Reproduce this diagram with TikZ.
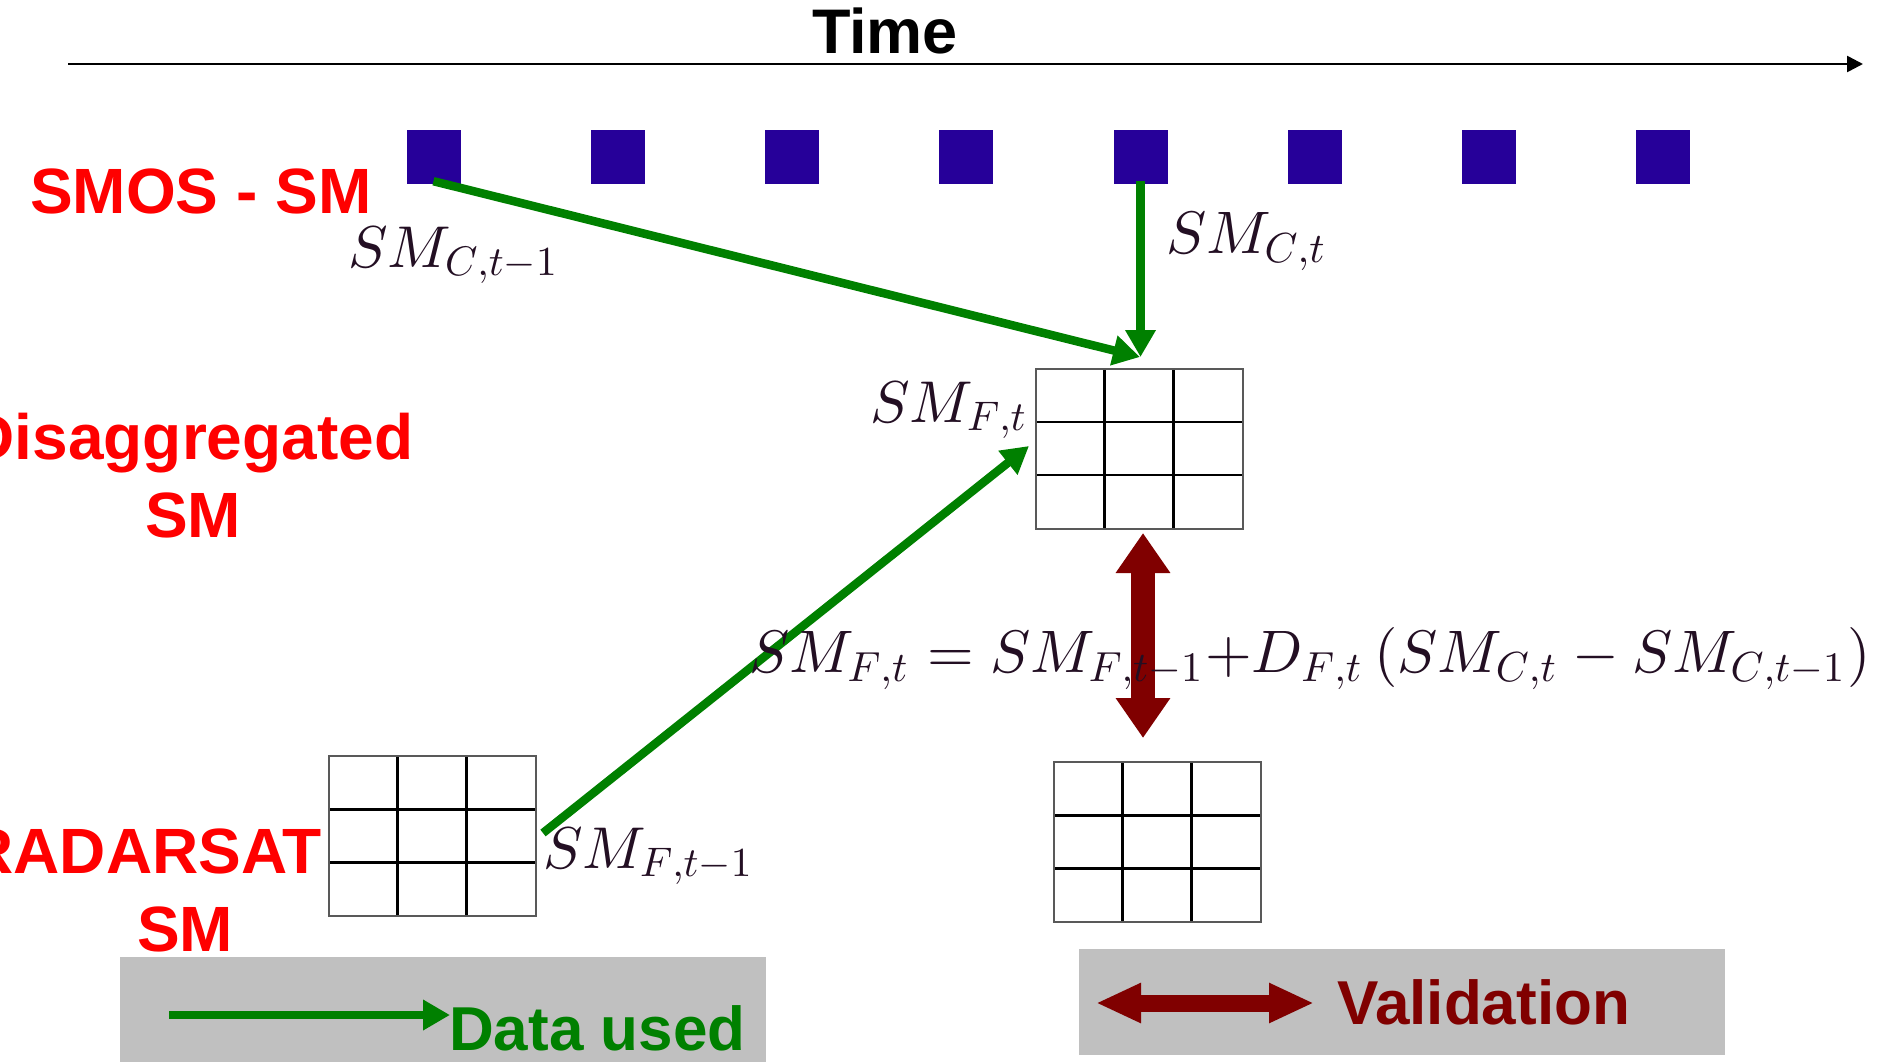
\documentclass[tikz,border=0pt]{standalone}
\usepackage{graphicx}
\usepackage[no-math]{fontspec}
\setmainfont{Liberation Sans}
\usetikzlibrary{arrows.meta,calc}
\definecolor{smosblue}{RGB}{38,0,153}
\definecolor{datagreen}{RGB}{0,128,0}
\definecolor{valred}{RGB}{128,0,0}
\definecolor{legendgray}{RGB}{192,192,192}
\definecolor{mathink}{RGB}{35,15,35}
\newcommand{\bigmath}[2]{\scalebox{#1}{\normalsize$#2$}}
\newcommand{\sbs}[1]{\mbox{\scalebox{0.7}{$#1$}}}
\begin{document}
\begin{tikzpicture}[x=1pt,y=-1pt,
  redlbl/.style={font=\fontsize{64}{76}\selectfont\bfseries, text=red, inner sep=0pt},
  mathlbl/.style={text=mathink, inner sep=0pt},
  sqr/.style={fill=smosblue, draw=none, minimum width=54pt, minimum height=54pt, inner sep=0pt},
  legendbox/.style={fill=legendgray, draw=none},
  timeaxis/.style={draw=black, line width=2.5pt, -{Triangle[length=16pt,width=16pt]}},
  datause/.style={draw=datagreen, line width=8.5pt, -{Triangle[length=27pt,width=29pt]}},
  valid/.style={draw=valred, line width=24pt, {Triangle[length=40pt,width=52pt]}-{Triangle[length=40pt,width=52pt]}},
  validleg/.style={draw=valred, line width=17pt, {Triangle[length=45pt,width=37pt]}-{Triangle[length=45pt,width=37pt]}},
  gridbox/.style={draw=black!65, line width=2pt, fill=white, inner sep=0pt,
    minimum width=207pt, minimum height=160pt,
    path picture={
      \foreach \f in {0.3333,0.6667}{
        \draw[black, line width=2.4pt]
          ($(path picture bounding box.north west)!\f!(path picture bounding box.north east)$) --
          ($(path picture bounding box.south west)!\f!(path picture bounding box.south east)$);
        \draw[black, line width=2.4pt]
          ($(path picture bounding box.north west)!\f!(path picture bounding box.south west)$) --
          ($(path picture bounding box.north east)!\f!(path picture bounding box.south east)$);
      }}}
]
\useasboundingbox (0,0) rectangle (1882,1061);

% legend boxes
\node[legendbox, minimum width=646pt, minimum height=110pt, inner sep=0pt, anchor=north west] (leg1) at (120,957) {};
\node[legendbox, minimum width=646pt, minimum height=106pt, inner sep=0pt, anchor=north west] (leg2) at (1079,949) {};

% time axis
\coordinate (axstart) at (68,64);
\coordinate (axend) at (1863,64);
\draw[timeaxis] (axstart) -- (axend);
\node[font=\fontsize{63}{76}\selectfont\bfseries, inner sep=0pt, anchor=base] (time) at (885,53) {Time};

% SMOS squares
\foreach \n/\x in {1/433.5,2/618,3/792,4/966,5/1140.5,6/1314.5,7/1489,8/1663}{
  \node[sqr] (s\n) at (\x,157) {};
}

% grids
\node[gridbox] (g1) at (1139,448.5) {};
\node[gridbox] (g2) at (1157,842) {};
\node[gridbox] (g3) at (432,836) {};

% row labels
\node[redlbl, anchor=base west] (smos) at (30,213) {SMOS - SM};
\node[redlbl, anchor=base] (dis1) at (191,459) {Disaggregated};
\node[redlbl, anchor=base] (dis2) at (193,537) {SM};
\node[redlbl, anchor=base east] (rad1) at (322,873) {RADARSAT};
\node[redlbl, anchor=base] (rad2) at (185,951) {SM};

% connectors
\coordinate (gin) at (1140,357);
\coordinate (fstart) at (543,833);
\coordinate (fend) at (1029,446);
\draw[datause] ($(s1.south)+(0,-3)$) -- (gin);
\draw[datause] ($(s5.south)+(0,-3)$) -- (gin -| s5.south);
\draw[datause] (fstart) -- (fend);
\coordinate (vtop) at (1143,533);
\coordinate (vbot) at (1143,738);
\draw[valid] (vtop) -- (vbot);

% legend arrows
\coordinate (la1) at (169,1015);
\coordinate (la2) at (450,1015);
\draw[datause] (la1) -- (la2);
\coordinate (lb1) at (1096,1003);
\coordinate (lb2) at (1314,1003);
\draw[validleg] (lb1) -- (lb2);
\node[font=\fontsize{62}{74}\selectfont\bfseries, text=datagreen, inner sep=0pt, anchor=base west] (dataused) at (449,1050) {Data used};
\node[font=\fontsize{62}{74}\selectfont\bfseries, text=valred, inner sep=0pt, anchor=base west] (validation) at (1337,1024) {Validation};

% math labels
\node[mathlbl, anchor=base west] (lct1) at (348,267) {\bigmath{5.9}{SM_{\sbs{C{,}t{-}1}}}};
\node[mathlbl, anchor=base west] (lct) at (1166,253) {\bigmath{6}{SM_{\sbs{C{,}t}}}};
\node[mathlbl, anchor=base west] (lft) at (870,422) {\bigmath{5.9}{SM_{\sbs{F{,}t}}}};
\node[mathlbl, anchor=base west] (lft1) at (543,868) {\bigmath{5.9}{SM_{\sbs{F{,}t{-}1}}}};
\node[mathlbl, anchor=base west] (formula) at (749,672)
  {\bigmath{6}{SM_{\sbs{F{,}t}} = SM_{\sbs{F{,}t{-}1}}{+}D_{\sbs{F{,}t}}\,(SM_{\sbs{C{,}t}} - SM_{\sbs{C{,}t{-}1}})}};
\end{tikzpicture}
\end{document}
